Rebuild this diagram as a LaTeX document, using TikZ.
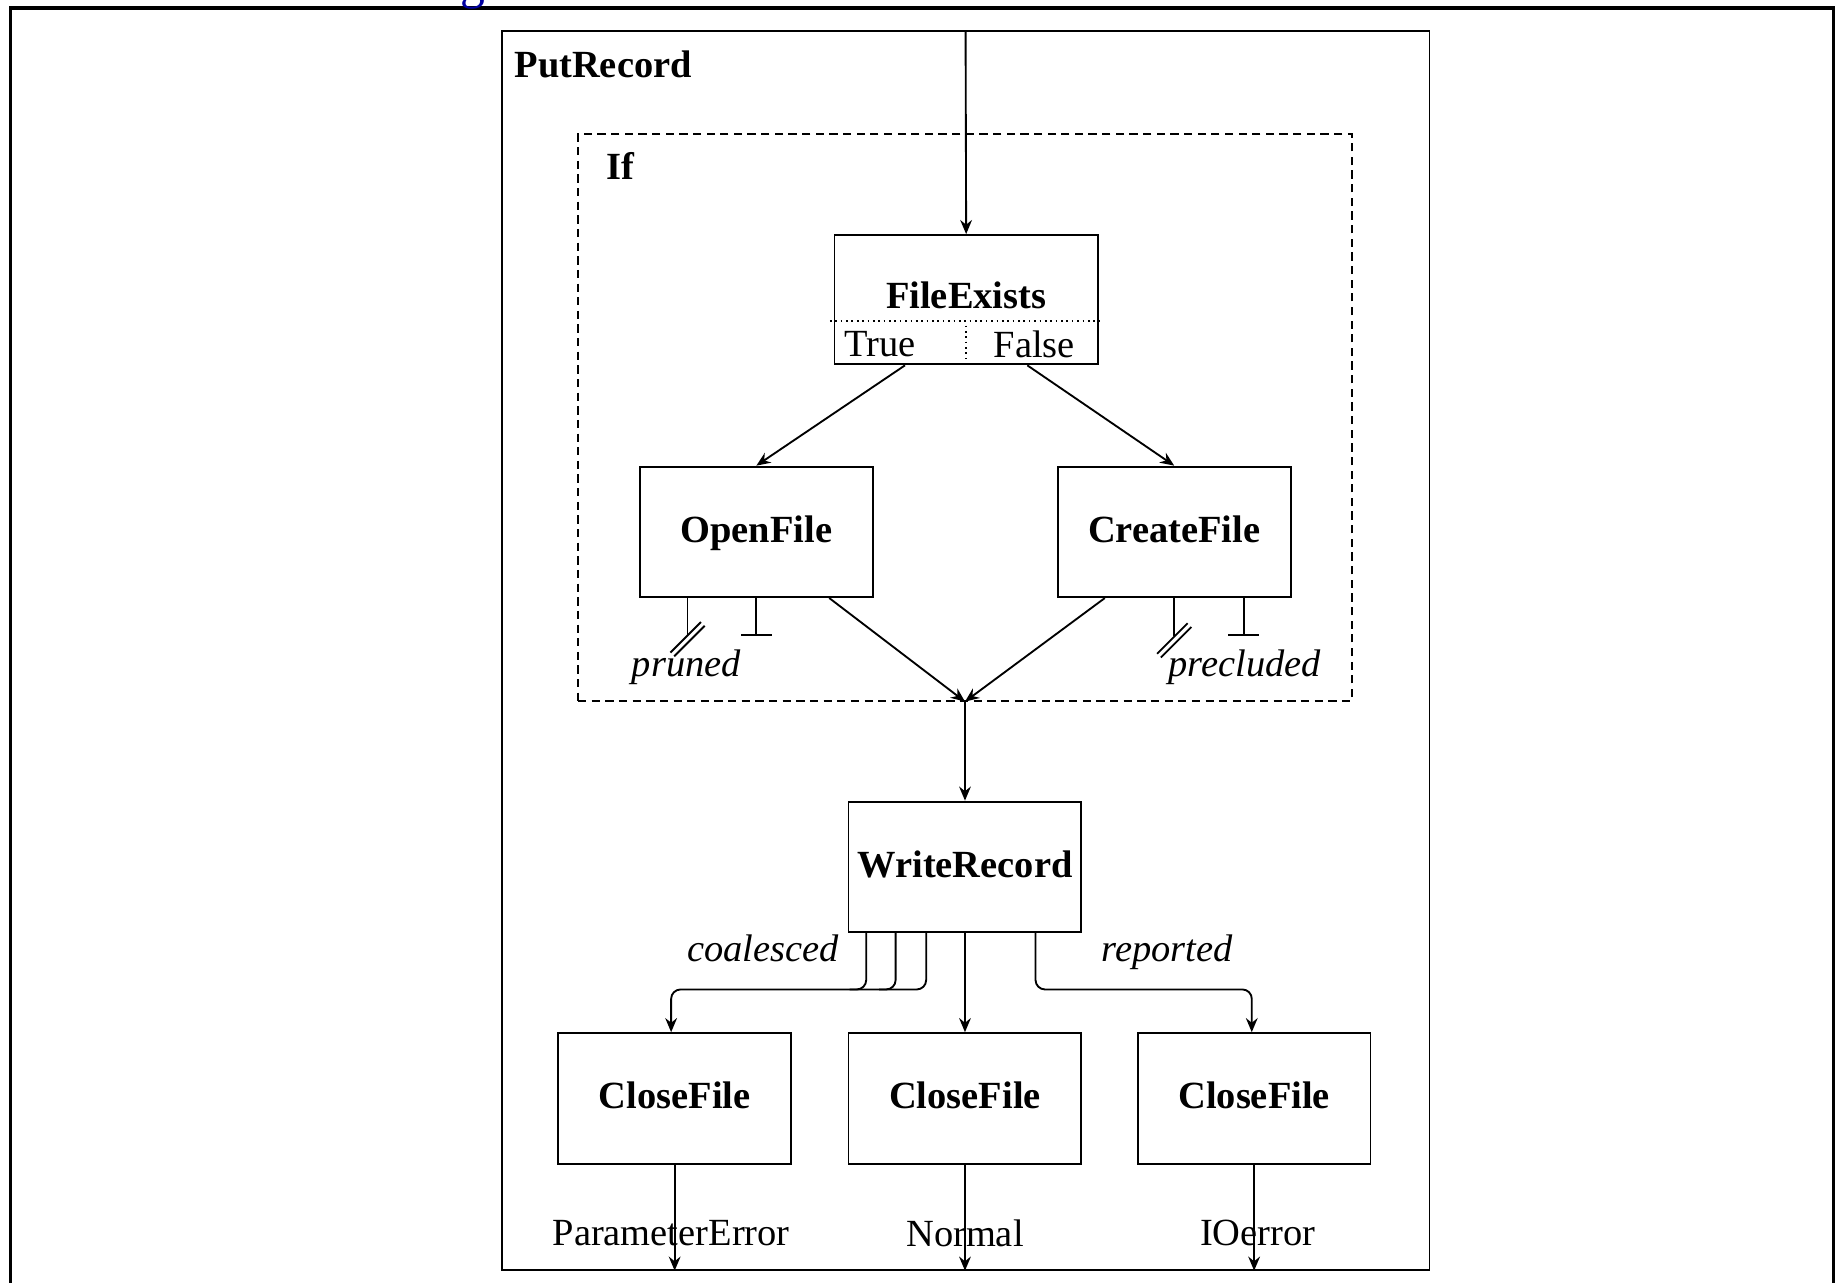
\documentclass[tikz,border=0pt]{standalone}
\usepackage{fontspec}
\setmainfont{Liberation Serif}
\usetikzlibrary{positioning, arrows.meta, calc}
\definecolor{headblue}{RGB}{0,0,160}
\newcommand\figfont{\fontsize{9.3}{11}\selectfont}

\begin{document}
\begin{tikzpicture}[
    x=0.01cm, y=-0.01cm,
    font=\figfont,
    line width=0.45pt,
    task/.style={rectangle, draw, font=\figfont\bfseries, minimum width=1.98cm, minimum height=1.11cm, inner sep=0pt, text height=0.7em, text depth=0.2em},
    blocklbl/.style={anchor=west, inner sep=0pt, font=\figfont\bfseries},
    exc/.style={font=\figfont\itshape, text height=0.7em, text depth=0.2em},
    flow/.style={-{Stealth[length=1.2mm, width=1mm, inset=0.4mm]}},
    stub/.style={-{Bar[width=2.6mm]}},
    divider/.style={dash pattern=on 0.4pt off 0.9pt}
  ]
  \useasboundingbox (0,0) rectangle (1568,1091);

  % page frame and cut-off heading
  \draw[line width=0.9pt] (9,1100) |- (1560,7) -- (1560,1100);
  \node[anchor=base, text=headblue, font=\fontsize{12}{14}\selectfont] (headtail) at (402,-1) {g};

  % Blocks
  \node[draw, minimum width=7.89cm, minimum height=10.53cm, inner sep=0pt] (putrec) at (821.5,553.5) {};
  \node[blocklbl] (putlbl) at (437,55) {PutRecord};

  \node[draw, dash pattern=on 2pt off 1.3pt, minimum width=6.58cm, minimum height=4.82cm, inner sep=0pt] (ifblk) at (821,355) {};
  \node[blocklbl] (iflbl) at (515,141) {If};

  % Test
  \node[task, minimum width=2.24cm, minimum height=1.10cm] (exists) at (822,255) {};
  \node[font=\figfont\bfseries] (existslbl) at (822,251) {FileExists};
  \draw[divider] ([xshift=-0.03cm, yshift=-0.18cm]exists.west) -- ([xshift=0.03cm, yshift=-0.18cm]exists.east);
  \draw[divider] ([yshift=-0.22cm]exists.center) -- ([yshift=-0.51cm]exists.center);
  \node (truelbl) at (749,293) {True};
  \node (falselbl) at (880,293) {False};

  % Branches
  \node[task] (openf) at (643.5,452.5) {OpenFile};
  \node[task] (createf) at (999,452.5) {CreateFile};

  \node[task] (writerec) at (821,737.5) {WriteRecord};

  \node[task] (closeA) at (574,934.5) {CloseFile};
  \node[task] (closeB) at (821,934.5) {CloseFile};
  \node[task] (closeC) at (1067,934.5) {CloseFile};

  % Arrows
  \draw[flow] (putrec.north) -- (exists.north);
  \draw[flow] ([xshift=-0.52cm]exists.south) -- (openf.north);
  \draw[flow] ([xshift=0.52cm]exists.south) -- (createf.north);
  \draw[flow] ([xshift=0.62cm]openf.south) -- (ifblk.south);
  \draw[flow] ([xshift=-0.59cm]createf.south) -- (ifblk.south);
  \draw[flow] (ifblk.south) -- (writerec.north);

  % exceptions of the branches
  \draw ([xshift=-0.585cm]openf.south) -- ++(0,32) coordinate (prn);
  \foreach \d in {-1.6,1.6}
    \draw ([shift={(\d,\d+3)}]prn) ++(-13,13) -- ++(26,-26);
  \draw[stub] (openf.south) -- ++(0,32);
  \node[exc] (prunedlbl) at (584,567) {pruned};

  \draw (createf.south) -- ++(0,32) coordinate (pcl);
  \foreach \d in {-1.6,1.6}
    \draw ([shift={(\d,\d+4)}]pcl) ++(-13,13) -- ++(26,-26);
  \draw[stub] ([xshift=0.59cm]createf.south) -- ++(0,32);
  \node[exc] (precludedlbl) at (1059,567) {precluded};

  % outcomes of WriteRecord
  \foreach \dx in {-0.84,-0.59}
    \draw[rounded corners=0.08cm] ([xshift=\dx cm]writerec.south) -- ++(0,48) -- ++(-14,0);
  \draw[flow, rounded corners=0.08cm] ([xshift=-0.33cm]writerec.south) -- ++(0,48) -| ([xshift=-0.03cm]closeA.north);
  \draw[flow] (writerec) -- (closeB);
  \draw[flow, rounded corners=0.08cm] ([xshift=0.6cm]writerec.south) -- ++(0,48) -| ([xshift=-0.02cm]closeC.north);
  \node[exc] (coallbl) at (649,809) {coalesced};
  \node[exc] (replbl) at (993,809) {reported};

  % results
  \draw[flow] (closeA) -- (closeA |- putrec.south);
  \draw[flow] (closeB) -- (closeB |- putrec.south);
  \draw[flow] (closeC) -- (closeC |- putrec.south);
  \node (perr) at (571,1049) {ParameterError};
  \node (normal) at (821,1049) {Normal};
  \node (ioerr) at (1070,1049) {IOerror};
\end{tikzpicture}
\end{document}
